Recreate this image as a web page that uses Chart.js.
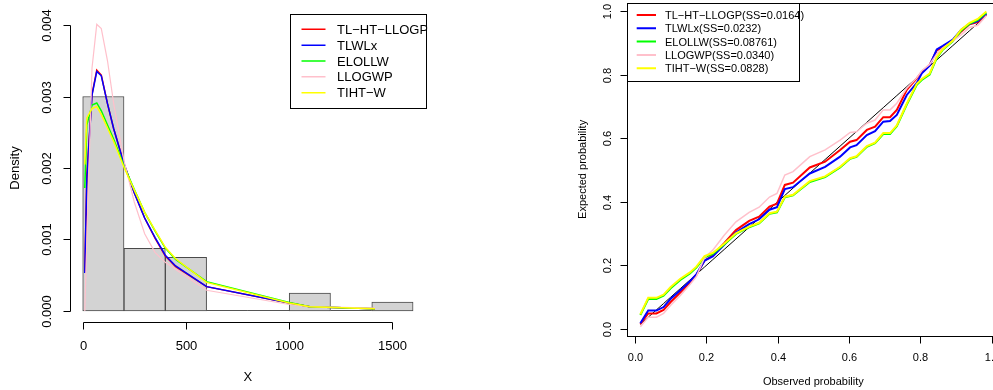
<!DOCTYPE html>
<html>
<head>
<meta charset="utf-8">
<script src="https://cdn.jsdelivr.net/npm/chart.js@4.4.1/dist/chart.umd.min.js"></script>
<style>
html, body { margin: 0; padding: 0; background: #fff; overflow: hidden; }
#wrap { position: relative; width: 993px; height: 390px; overflow: hidden; }
#left { position: absolute; left: 0; top: 0; }
#right { position: absolute; left: 496px; top: 0; }
</style>
</head>
<body>
<div id="wrap">
<canvas id="left" width="496" height="390"></canvas>
<canvas id="right" width="510" height="390"></canvas>
</div>
<script>
// --- Histogram + fitted densities (left) ---
const binEdges = [0, 200, 400, 600, 800, 1000, 1200, 1400, 1600];
const binDensity = [0.003, 0.000875, 0.00075, 0, 0, 0.00025, 0, 0.000125];

const densX = [10, 20, 45, 68, 90, 120, 150, 200, 250, 300, 350, 400, 450, 600, 1000, 1100, 1415];
const densTLHT = [0.00055, 0.0019, 0.00303, 0.00337, 0.0033, 0.0029, 0.00255, 0.00206, 0.00165, 0.0013, 0.00102, 0.00077, 0.00062, 0.00034, 0.00011, 0.00006, 0.00003];
const densTLWLx = [0.00053, 0.00185, 0.00302, 0.00335, 0.00329, 0.0029, 0.00255, 0.00206, 0.00165, 0.0013, 0.00103, 0.00078, 0.00063, 0.00034, 0.00011, 0.00006, 0.00003];
const densELOLLW = [0.00172, 0.0026, 0.00288, 0.00291, 0.0028, 0.0026, 0.0024, 0.00203, 0.0017, 0.00138, 0.00112, 0.00088, 0.00072, 0.00041, 0.00012, 0.00006, 0.00003];
const densLLOGWP = [0.0, 0.001, 0.0034, 0.00401, 0.00395, 0.0035, 0.0029, 0.0021, 0.00152, 0.00108, 0.00082, 0.00068, 0.00058, 0.00029, 0.00009, 0.00006, 0.00004];
const densTIHTW = [0.00205, 0.0027, 0.00283, 0.00286, 0.00275, 0.00256, 0.00237, 0.00201, 0.00169, 0.00138, 0.00113, 0.00089, 0.00073, 0.0004, 0.00011, 0.00006, 0.00003];

const histXTicks = [0, 500, 1000, 1500];
const histXLabels = ['0', '500', '1000', '1500'];
const histYTicks = [0, 0.001, 0.002, 0.003, 0.004];
const histYLabels = ['0.000', '0.001', '0.002', '0.003', '0.004'];
const histLegend = ['TL\u2212HT\u2212LLOGP', 'TLWLx', 'ELOLLW', 'LLOGWP', 'TIHT\u2212W'];

// --- PP plot (right) ---
const observed = [0.015, 0.037, 0.060, 0.080, 0.100, 0.127, 0.154, 0.172, 0.195, 0.218, 0.25, 0.283, 0.32, 0.348, 0.377, 0.398, 0.42, 0.443, 0.49, 0.533, 0.575, 0.603, 0.621, 0.65, 0.673, 0.696, 0.715, 0.734, 0.762, 0.79, 0.804, 0.826, 0.846, 0.863, 0.891, 0.914, 0.938, 0.961, 0.985];
const ppTLHT = [0.015, 0.049, 0.049, 0.060, 0.085, 0.115, 0.145, 0.170, 0.215, 0.232, 0.270, 0.311, 0.340, 0.353, 0.385, 0.394, 0.453, 0.460, 0.508, 0.526, 0.563, 0.589, 0.594, 0.626, 0.636, 0.666, 0.666, 0.689, 0.752, 0.788, 0.808, 0.830, 0.876, 0.886, 0.908, 0.935, 0.958, 0.965, 0.990];
const ppTLWLx = [0.018, 0.058, 0.058, 0.069, 0.095, 0.122, 0.150, 0.172, 0.215, 0.228, 0.265, 0.303, 0.330, 0.345, 0.375, 0.383, 0.440, 0.446, 0.489, 0.510, 0.542, 0.571, 0.578, 0.610, 0.622, 0.652, 0.654, 0.673, 0.736, 0.774, 0.804, 0.828, 0.879, 0.890, 0.910, 0.940, 0.960, 0.968, 0.992];
const ppELOLLW = [0.044, 0.094, 0.094, 0.105, 0.128, 0.154, 0.175, 0.193, 0.225, 0.236, 0.266, 0.299, 0.320, 0.332, 0.362, 0.367, 0.414, 0.420, 0.462, 0.478, 0.508, 0.535, 0.541, 0.573, 0.584, 0.613, 0.613, 0.638, 0.706, 0.768, 0.783, 0.800, 0.852, 0.878, 0.905, 0.938, 0.960, 0.972, 0.995];
const ppLLOGWP = [0.007, 0.037, 0.037, 0.049, 0.075, 0.105, 0.140, 0.165, 0.225, 0.248, 0.295, 0.337, 0.367, 0.383, 0.415, 0.426, 0.484, 0.495, 0.542, 0.563, 0.594, 0.618, 0.620, 0.647, 0.657, 0.689, 0.689, 0.710, 0.757, 0.790, 0.812, 0.832, 0.865, 0.884, 0.905, 0.925, 0.948, 0.955, 0.985];
const ppTIHTW = [0.046, 0.098, 0.098, 0.108, 0.132, 0.158, 0.178, 0.196, 0.229, 0.239, 0.268, 0.301, 0.322, 0.334, 0.364, 0.369, 0.416, 0.422, 0.465, 0.480, 0.510, 0.537, 0.543, 0.575, 0.586, 0.616, 0.616, 0.640, 0.709, 0.771, 0.786, 0.803, 0.855, 0.880, 0.907, 0.941, 0.963, 0.975, 0.998];

const ppTicks = [0, 0.2, 0.4, 0.6, 0.8, 1.0];
const ppTickLabels = ['0.0', '0.2', '0.4', '0.6', '0.8', '1.0'];
const ppLegend = ['TL\u2212HT\u2212LLOGP(SS=0.0164)', 'TLWLx(SS=0.0232)', 'ELOLLW(SS=0.08761)', 'LLOGWP(SS=0.0340)', 'TIHT\u2212W(SS=0.0828)'];

const COLORS = ['#ff0000', '#0000ff', '#00ff00', '#ffc0cb', '#ffff00'];
const FONT = "'Liberation Sans', Arial, sans-serif";

// R style axes: line only between first and last tick, labels parallel to axis
const rAxes = {
    id: 'rAxes',
    afterDraw(chart, args, o) {
        const ctx = chart.ctx, sx = chart.scales.x, sy = chart.scales.y, a = chart.chartArea;
        ctx.save();
        ctx.strokeStyle = '#000';
        ctx.fillStyle = '#000';
        ctx.lineWidth = 1;
        ctx.font = o.size + 'px ' + FONT;
        ctx.textAlign = 'center';
        ctx.textBaseline = 'middle';

        if (o.box) {
            ctx.strokeRect(Math.round(a.left) + 0.5, Math.round(a.top) + 0.5,
                Math.round(a.right - a.left), Math.round(a.bottom - a.top));
        }

        const xs = o.xTicks.map(v => Math.round(sx.getPixelForValue(v)) + 0.5);
        const yb = Math.round(a.bottom) + 0.5;
        ctx.beginPath();
        ctx.moveTo(xs[0], yb);
        ctx.lineTo(xs[xs.length - 1], yb);
        xs.forEach(px => { ctx.moveTo(px, yb); ctx.lineTo(px, yb + o.tick); });
        ctx.stroke();
        xs.forEach((px, i) => ctx.fillText(o.xLabels[i], px, yb + o.xLabOff));
        ctx.fillText(o.xTitle, (a.left + a.right) / 2, o.xTitleY);

        const ys = o.yTicks.map(v => Math.round(sy.getPixelForValue(v)) + 0.5);
        const xl = Math.round(a.left) + 0.5;
        ctx.beginPath();
        ctx.moveTo(xl, ys[0]);
        ctx.lineTo(xl, ys[ys.length - 1]);
        ys.forEach(py => { ctx.moveTo(xl, py); ctx.lineTo(xl - o.tick, py); });
        ctx.stroke();
        ys.forEach((py, i) => {
            ctx.save();
            ctx.translate(o.yLabX, py);
            ctx.rotate(-Math.PI / 2);
            ctx.fillText(o.yLabels[i], 0, 0);
            ctx.restore();
        });
        ctx.save();
        ctx.translate(o.yTitleX, (a.top + a.bottom) / 2);
        ctx.rotate(-Math.PI / 2);
        ctx.fillText(o.yTitle, 0, 0);
        ctx.restore();
        ctx.restore();
    }
};

// boxed legend like R's legend(), clipped to the plot region
const rLegend = {
    id: 'rLegend',
    afterDraw(chart, args, o) {
        const ctx = chart.ctx, a = chart.chartArea;
        const left = o.align === 'right' ? a.right - o.w : a.left;
        const top = a.top;
        ctx.save();
        ctx.beginPath();
        ctx.rect(a.left, a.top, a.right - a.left + 1, a.bottom - a.top);
        ctx.clip();
        ctx.fillStyle = '#fff';
        ctx.fillRect(left, top, o.w, o.h);
        ctx.strokeStyle = '#000';
        ctx.lineWidth = 1;
        ctx.strokeRect(Math.round(left) + 0.5, Math.round(top) + 0.5, Math.round(o.w) - 1, Math.round(o.h));
        ctx.font = o.size + 'px ' + FONT;
        ctx.textAlign = 'left';
        ctx.textBaseline = 'middle';
        const items = chart.data.datasets.filter(d => d.legendIndex !== undefined)
            .sort((p, q) => p.legendIndex - q.legendIndex);
        items.forEach((d, i) => {
            const y = top + o.firstRow + i * o.rowStep;
            ctx.strokeStyle = d.borderColor;
            ctx.lineWidth = o.lineW;
            ctx.beginPath();
            ctx.moveTo(left + o.lineX0, y);
            ctx.lineTo(left + o.lineX1, y);
            ctx.stroke();
            ctx.fillStyle = '#000';
            ctx.fillText(d.label, left + o.textX, y + 1);
        });
        ctx.restore();
    }
};

// empty bins still get their bottom edge in R's hist()
const emptyBins = {
    id: 'emptyBins',
    beforeDatasetsDraw(chart) {
        const ctx = chart.ctx, sx = chart.scales.x, sy = chart.scales.y;
        ctx.save();
        ctx.strokeStyle = '#555';
        ctx.lineWidth = 1;
        const y0 = Math.round(sy.getPixelForValue(0)) - 0.5;
        ctx.beginPath();
        binDensity.forEach((d, i) => {
            if (d === 0) {
                ctx.moveTo(sx.getPixelForValue(binEdges[i]), y0);
                ctx.lineTo(sx.getPixelForValue(binEdges[i + 1]), y0);
            }
        });
        ctx.stroke();
        ctx.restore();
    }
};

function lineSet(label, xs, ys, color, width, idx) {
    return {
        type: 'line',
        label: label,
        legendIndex: idx,
        data: xs.map((x, i) => ({ x: x, y: ys[i] })),
        borderColor: color,
        borderWidth: width,
        pointRadius: 0,
        fill: false,
        tension: 0,
        order: 6 - idx
    };
}

const densSeries = [densTLHT, densTLWLx, densELOLLW, densLLOGWP, densTIHTW];
const ppSeries = [ppTLHT, ppTLWLx, ppELOLLW, ppLLOGWP, ppTIHTW];

new Chart(document.getElementById('left'), {
    type: 'bar',
    data: {
        datasets: [{
            type: 'bar',
            data: binDensity.map((d, i) => ({ x: (binEdges[i] + binEdges[i + 1]) / 2, y: d })),
            backgroundColor: '#d3d3d3',
            borderColor: '#4a4a4a',
            borderWidth: 1,
            borderSkipped: false,
            barPercentage: 1,
            categoryPercentage: 1,
            order: 10
        }].concat(densSeries.map((s, i) => lineSet(histLegend[i], densX, s, COLORS[i], i === 3 ? 1.2 : 1.5, i)))
    },
    options: {
        responsive: false,
        animation: false,
        devicePixelRatio: 1,
        layout: { padding: { left: 69.5, right: 69.7, top: 13.6, bottom: 67.6 } },
        scales: {
            x: { type: 'linear', min: -64, max: 1664, offset: false, display: false },
            y: { type: 'linear', min: -0.00016, max: 0.00416, display: false }
        },
        plugins: {
            legend: { display: false },
            tooltip: { enabled: false },
            rAxes: {
                size: 13, tick: 7, box: false,
                xTicks: histXTicks, xLabels: histXLabels, xLabOff: 24, xTitle: 'X', xTitleY: 377,
                yTicks: histYTicks, yLabels: histYLabels, yLabX: 47.5, yTitle: 'Density', yTitleX: 15.5
            },
            rLegend: {
                align: 'right', w: 136.5, h: 94.4, size: 13,
                firstRow: 15.7, rowStep: 15.85, lineX0: 11.7, lineX1: 35.7, textX: 47.3, lineW: 1.5
            }
        }
    },
    plugins: [emptyBins, rAxes, rLegend]
});

new Chart(document.getElementById('right'), {
    type: 'line',
    data: {
        datasets: [{
            type: 'line',
            data: observed.map(v => ({ x: v, y: v })),
            borderColor: '#000',
            borderWidth: 1,
            pointRadius: 0,
            fill: false,
            tension: 0,
            order: 10
        }].concat(ppSeries.map((s, i) => lineSet(ppLegend[i], observed, s, COLORS[i], i === 3 ? 1.5 : 2, i)))
    },
    options: {
        responsive: false,
        animation: false,
        devicePixelRatio: 1,
        layout: { padding: { left: 130.7, right: 6, top: 2.7, bottom: 54 } },
        scales: {
            x: { type: 'linear', min: -0.0233, max: 1.0233, offset: false, display: false },
            y: { type: 'linear', min: -0.022, max: 1.026, display: false }
        },
        plugins: {
            legend: { display: false },
            tooltip: { enabled: false },
            rAxes: {
                size: 11, tick: 7, box: true,
                xTicks: ppTicks, xLabels: ppTickLabels, xLabOff: 21, xTitle: 'Observed probability', xTitleY: 382,
                yTicks: ppTicks, yLabels: ppTickLabels, yLabX: 112, yTitle: 'Expected probability', yTitleX: 87
            },
            rLegend: {
                align: 'left', w: 172.6, h: 78, size: 11,
                firstRow: 12.3, rowStep: 13.3, lineX0: 10, lineX1: 29.3, textX: 38.3, lineW: 2
            }
        }
    },
    plugins: [rAxes, rLegend]
});
</script>
</body>
</html>
